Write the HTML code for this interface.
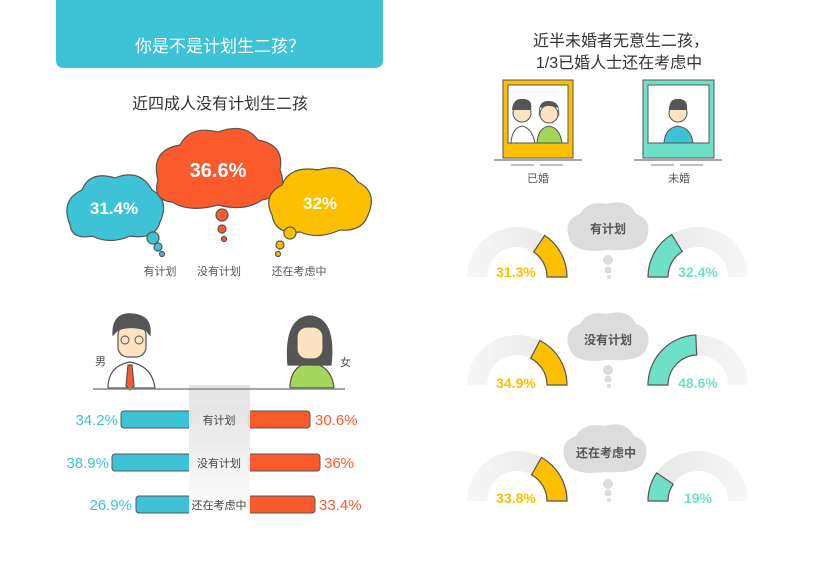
<!DOCTYPE html>
<html><head><meta charset="utf-8"><style>
html,body{margin:0;padding:0;background:#fff;}
svg{display:block;font-family:"Liberation Sans","Noto Sans CJK SC",sans-serif;}
</style></head><body>
<svg width="831" height="582" viewBox="0 0 831 582" xmlns="http://www.w3.org/2000/svg">
<defs>
<linearGradient id="col" x1="0" y1="0" x2="0" y2="1"><stop offset="0" stop-color="#e4e4e4"/><stop offset="1" stop-color="#fff"/></linearGradient>
<linearGradient id="ring" x1="0" y1="0" x2="1" y2="0"><stop offset="0" stop-color="#f7f7f7"/><stop offset="1" stop-color="#e6e6e6"/></linearGradient>
<linearGradient id="ring2" x1="1" y1="0" x2="0" y2="0"><stop offset="0" stop-color="#f7f7f7"/><stop offset="1" stop-color="#e6e6e6"/></linearGradient>
</defs>
<!-- header -->
<path d="M56 0 H383 V60 Q383 68 375 68 H64 Q56 68 56 60 Z" fill="#3ec3d6"/>
<text x="220" y="52" font-size="17" fill="#fff" text-anchor="middle">你是不是计划生二孩？</text>
<text x="220" y="109" font-size="16" fill="#333" text-anchor="middle">近四成人没有计划生二孩</text>
<!-- clouds left -->
<g fill="#3ec3d6" stroke="#555" stroke-width="1.2">
<path d="M70 225 Q60 200 82 190 Q90 170 115 178 Q140 168 152 190 Q170 200 160 222 Q155 240 130 236 Q110 245 92 236 Q72 240 70 225 Z"/>
<circle cx="153" cy="238" r="6"/><circle cx="158" cy="247" r="4"/><circle cx="162" cy="254" r="2.5"/>
</g>
<g fill="#fb5a2c" stroke="#555" stroke-width="1.2">
<path d="M158 180 Q150 150 180 145 Q190 125 218 132 Q245 122 258 140 Q285 145 280 170 Q290 195 262 200 Q245 212 218 205 Q190 213 172 202 Q152 200 158 180 Z"/>
<circle cx="222" cy="215" r="6"/><circle cx="222" cy="229" r="4"/><circle cx="224" cy="239" r="2.5"/>
</g>
<g fill="#fdc000" stroke="#555" stroke-width="1.2">
<path d="M272 215 Q262 195 282 185 Q290 165 318 170 Q345 162 358 182 Q378 192 368 215 Q362 232 340 230 Q318 240 300 232 Q275 235 272 215 Z"/>
<circle cx="290" cy="233" r="6"/><circle cx="280" cy="245" r="4"/><circle cx="278" cy="254" r="2.5"/>
</g>
<g font-size="17" font-weight="bold" fill="#fff" text-anchor="middle">
<text x="114" y="214">31.4%</text><text x="218" y="177" font-size="20">36.6%</text><text x="320" y="209">32%</text>
</g>
<g font-size="11" fill="#555" text-anchor="middle">
<text x="160" y="275">有计划</text><text x="219" y="275">没有计划</text><text x="299" y="275">还在考虑中</text>
</g>
<!-- people left -->
<rect x="189" y="385" width="61" height="135" fill="url(#col)"/>
<g stroke="#555" stroke-width="1.2">
<path d="M108 388 Q108 366 130 362 Q152 366 155 388 Z" fill="#fff"/>
<path d="M128 365 L132 365 L134 386 L130 390 L126 386 Z" fill="#fb5a2c"/>
<rect x="118" y="325" width="28" height="32" rx="10" fill="#fde3c2"/>
<path d="M113 335 Q112 312 133 314 Q152 316 150 335 L146 330 Q130 325 118 330 Z" fill="#555"/>
<path d="M290 388 Q290 366 310 362 Q332 366 334 388 Z" fill="#a3d65a"/>
<path d="M288 365 Q284 318 310 316 Q336 318 331 365 Z" fill="#555"/>
<rect x="297" y="327" width="26" height="32" rx="10" fill="#fde3c2"/>
</g>
<g fill="none" stroke="#555" stroke-width="1"><circle cx="125" cy="340" r="4"/><circle cx="139" cy="340" r="4"/></g>
<line x1="93" y1="389" x2="345" y2="389" stroke="#888" stroke-width="1.5"/>
<text x="95" y="365" font-size="11" fill="#555">男</text><text x="340" y="366" font-size="11" fill="#555">女</text>
<!-- bars -->
<g stroke="#555" stroke-width="1">
<rect x="121" y="411" width="70" height="17" rx="3" fill="#3ec3d6"/>
<rect x="112" y="454" width="79" height="17" rx="3" fill="#3ec3d6"/>
<rect x="136" y="496" width="55" height="17" rx="3" fill="#3ec3d6"/>
<rect x="248" y="411" width="62" height="17" rx="3" fill="#fb5a2c"/>
<rect x="248" y="454" width="72" height="17" rx="3" fill="#fb5a2c"/>
<rect x="248" y="496" width="67" height="17" rx="3" fill="#fb5a2c"/>
</g>
<rect x="189" y="405" width="61" height="115" fill="url(#col)" opacity="0.95"/>
<g font-size="11" fill="#444" text-anchor="middle"><text x="219" y="424">有计划</text><text x="219" y="467">没有计划</text><text x="219" y="509">还在考虑中</text></g>
<g font-size="15" fill="#3ec3d6" text-anchor="end"><text x="118" y="425">34.2%</text><text x="109" y="468">38.9%</text><text x="132" y="510">26.9%</text></g>
<g font-size="15" fill="#fb5a2c"><text x="315" y="425">30.6%</text><text x="324" y="468">36%</text><text x="319" y="510">33.4%</text></g>
<!-- right title -->
<g font-size="16" fill="#333" text-anchor="middle"><text x="621" y="46">近半未婚者无意生二孩，</text><text x="619" y="68">1/3已婚人士还在考虑中</text></g>
<!-- frames -->
<rect x="503" y="80" width="70" height="78" fill="#fdc000" stroke="#555"/>
<rect x="508" y="85" width="60" height="58" fill="#fff" stroke="#555"/>
<path d="M511 143 Q512 128 522 126 Q532 128 535 143 Z" fill="#fff" stroke="#555"/>
<path d="M537 143 Q538 128 549 126 Q560 128 562 143 Z" fill="#a3d65a" stroke="#555"/>
<circle cx="522" cy="113" r="9" fill="#fde3c2" stroke="#555"/><circle cx="549" cy="114" r="9" fill="#fde3c2" stroke="#555"/>
<path d="M512 110 Q513 98 523 99 Q533 99 531 110 Z" fill="#555"/><path d="M539 118 Q537 100 549 101 Q561 101 559 118 L558 108 Q549 104 540 108 Z" fill="#555"/>
<rect x="643" y="80" width="71" height="78" fill="#6fe0c8" stroke="#555"/>
<rect x="648" y="85" width="61" height="58" fill="#fff" stroke="#555"/>
<path d="M664 143 Q665 128 678 126 Q691 128 693 143 Z" fill="#3ec3d6" stroke="#555"/>
<circle cx="678" cy="113" r="9" fill="#fde3c2" stroke="#555"/><path d="M669 110 Q669 98 679 99 Q688 99 687 110 Z" fill="#555"/>
<g stroke="#888" stroke-width="1.5"><line x1="494" y1="160" x2="582" y2="160"/><line x1="634" y1="160" x2="722" y2="160"/></g>
<g stroke="#aaa" stroke-width="1.5"><line x1="511" y1="165" x2="534" y2="165"/><line x1="540" y1="165" x2="563" y2="165"/><line x1="651" y1="165" x2="674" y2="165"/><line x1="680" y1="165" x2="703" y2="165"/></g>
<g font-size="11" fill="#555" text-anchor="middle"><text x="538" y="182">已婚</text><text x="679" y="182">未婚</text></g>
<!-- gauges -->
<g>
<path d="M467 277 A50 50 0 0 1 567 277 L547 277 A30 30 0 0 0 487 277 Z" fill="url(#ring)"/>
<path d="M648 277 A50 50 0 0 1 748 277 L728 277 A30 30 0 0 0 668 277 Z" fill="url(#ring2)"/>
<path d="M467 385 A50 50 0 0 1 567 385 L547 385 A30 30 0 0 0 487 385 Z" fill="url(#ring)"/>
<path d="M648 385 A50 50 0 0 1 748 385 L728 385 A30 30 0 0 0 668 385 Z" fill="url(#ring2)"/>
<path d="M467 501 A50 50 0 0 1 567 501 L547 501 A30 30 0 0 0 487 501 Z" fill="url(#ring)"/>
<path d="M648 501 A50 50 0 0 1 748 501 L728 501 A30 30 0 0 0 668 501 Z" fill="url(#ring2)"/>
</g>
<g stroke="#555" stroke-width="1.2">
<path d="M567 277 A50 50 0 0 0 544.7 235.4 L533.6 252 A30 30 0 0 1 547 277 Z" fill="#fdc000"/>
<path d="M648 277 A50 50 0 0 1 671.7 234.5 L682.2 251.5 A30 30 0 0 0 668 277 Z" fill="#6fe0c8"/>
<path d="M567 385 A50 50 0 0 0 539.9 340.5 L530.7 358.3 A30 30 0 0 1 547 385 Z" fill="#fdc000"/>
<path d="M648 385 A50 50 0 0 1 695.8 335 L696.7 355 A30 30 0 0 0 668 385 Z" fill="#6fe0c8"/>
<path d="M567 501 A50 50 0 0 0 541.4 457.4 L531.6 474.8 A30 30 0 0 1 547 501 Z" fill="#fdc000"/>
<path d="M648 501 A50 50 0 0 1 656.7 472.9 L673.2 484.1 A30 30 0 0 0 668 501 Z" fill="#6fe0c8"/>
</g>
<g font-size="14" font-weight="bold" text-anchor="middle">
<text x="516" y="277" fill="#fdc000">31.3%</text><text x="698" y="277" fill="#6fe0c8">32.4%</text>
<text x="516" y="388" fill="#fdc000">34.9%</text><text x="698" y="388" fill="#6fe0c8">48.6%</text>
<text x="516" y="503" fill="#fdc000">33.8%</text><text x="698" y="503" fill="#6fe0c8">19%</text>
</g>
<!-- grey clouds -->
<g fill="#dcdcdc">
<path d="M570 240 Q562 220 580 214 Q588 200 607 204 Q628 198 636 214 Q654 220 646 240 Q640 252 607 250 Q576 254 570 240 Z"/>
<circle cx="608" cy="260" r="5"/><circle cx="608" cy="270" r="3.5"/><circle cx="609" cy="277" r="2"/>
<path d="M570 350 Q562 330 580 324 Q588 310 607 314 Q628 308 636 324 Q654 330 646 350 Q640 362 607 360 Q576 364 570 350 Z"/>
<circle cx="608" cy="370" r="5"/><circle cx="608" cy="379" r="3.5"/><circle cx="609" cy="386" r="2"/>
<path d="M566 462 Q558 442 576 436 Q584 422 605 426 Q626 420 634 436 Q652 442 644 462 Q638 474 605 472 Q572 476 566 462 Z"/>
<circle cx="608" cy="484" r="5"/><circle cx="608" cy="493" r="3.5"/><circle cx="609" cy="500" r="2"/>
</g>
<g font-size="12" font-weight="bold" fill="#555" text-anchor="middle">
<text x="608" y="233">有计划</text><text x="608" y="344">没有计划</text><text x="606" y="457">还在考虑中</text>
</g>
</svg>
</body></html>
